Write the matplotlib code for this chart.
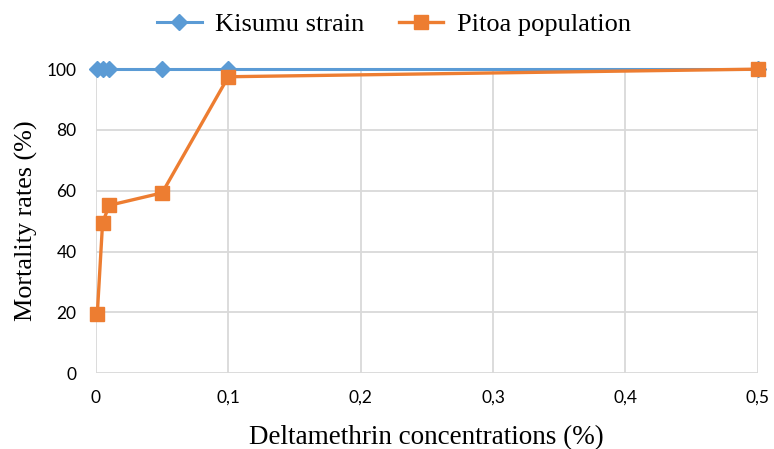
import matplotlib
matplotlib.use('Agg')
import matplotlib.pyplot as plt
from matplotlib.ticker import FuncFormatter

# concentrations (%) and mortality rates (%)
conc = [0.001, 0.005, 0.01, 0.05, 0.1, 0.5]
kisumu = [100, 100, 100, 100, 100, 100]
pitoa = [19.5, 49.5, 55.2, 59.3, 97.5, 100]

fig = plt.figure(figsize=(7.74, 4.49), dpi=100)
ax = fig.add_axes([0.124, 0.169, 0.855, 0.677])

ax.plot(conc, kisumu, color='#5B9BD5', lw=2.2, marker='D', ms=8.5, label='Kisumu strain',
        zorder=3, clip_on=False)
ax.plot(conc, pitoa, color='#ED7D31', lw=2.4, marker='s', ms=10.5, label='Pitoa population',
        zorder=4, clip_on=False)

ax.set_xlim(0, 0.5)
ax.set_ylim(0, 100)
ax.set_xticks([0, 0.1, 0.2, 0.3, 0.4, 0.5])
ax.set_yticks(range(0, 101, 20))
ax.xaxis.set_major_formatter(FuncFormatter(lambda v, p: ('%g' % round(v, 2)).replace('.', ',')))
ax.grid(True, color='#D9D9D9', lw=1.3)
ax.set_axisbelow(True)
for s in ax.spines.values():
    s.set_visible(False)
ax.tick_params(length=0, labelsize=12.5)
ax.tick_params(axis='x', pad=12)
ax.tick_params(axis='y', pad=14)
for lab in ax.get_xticklabels() + ax.get_yticklabels():
    lab.set_fontfamily('Lato')

serif = 'Liberation Serif'
ax.set_xlabel('Deltamethrin concentrations (%)', fontsize=19.5, family=serif, labelpad=14)
ax.set_ylabel('Mortality rates (%)', fontsize=18.8, family=serif, labelpad=6)
ax.legend(loc='lower center', bbox_to_anchor=(0.45, 1.03), ncol=2, frameon=False,
          prop={'family': serif, 'size': 19}, handlelength=1.7, handletextpad=0.5,
          columnspacing=1.3)

fig.savefig('out.png', dpi=100)
